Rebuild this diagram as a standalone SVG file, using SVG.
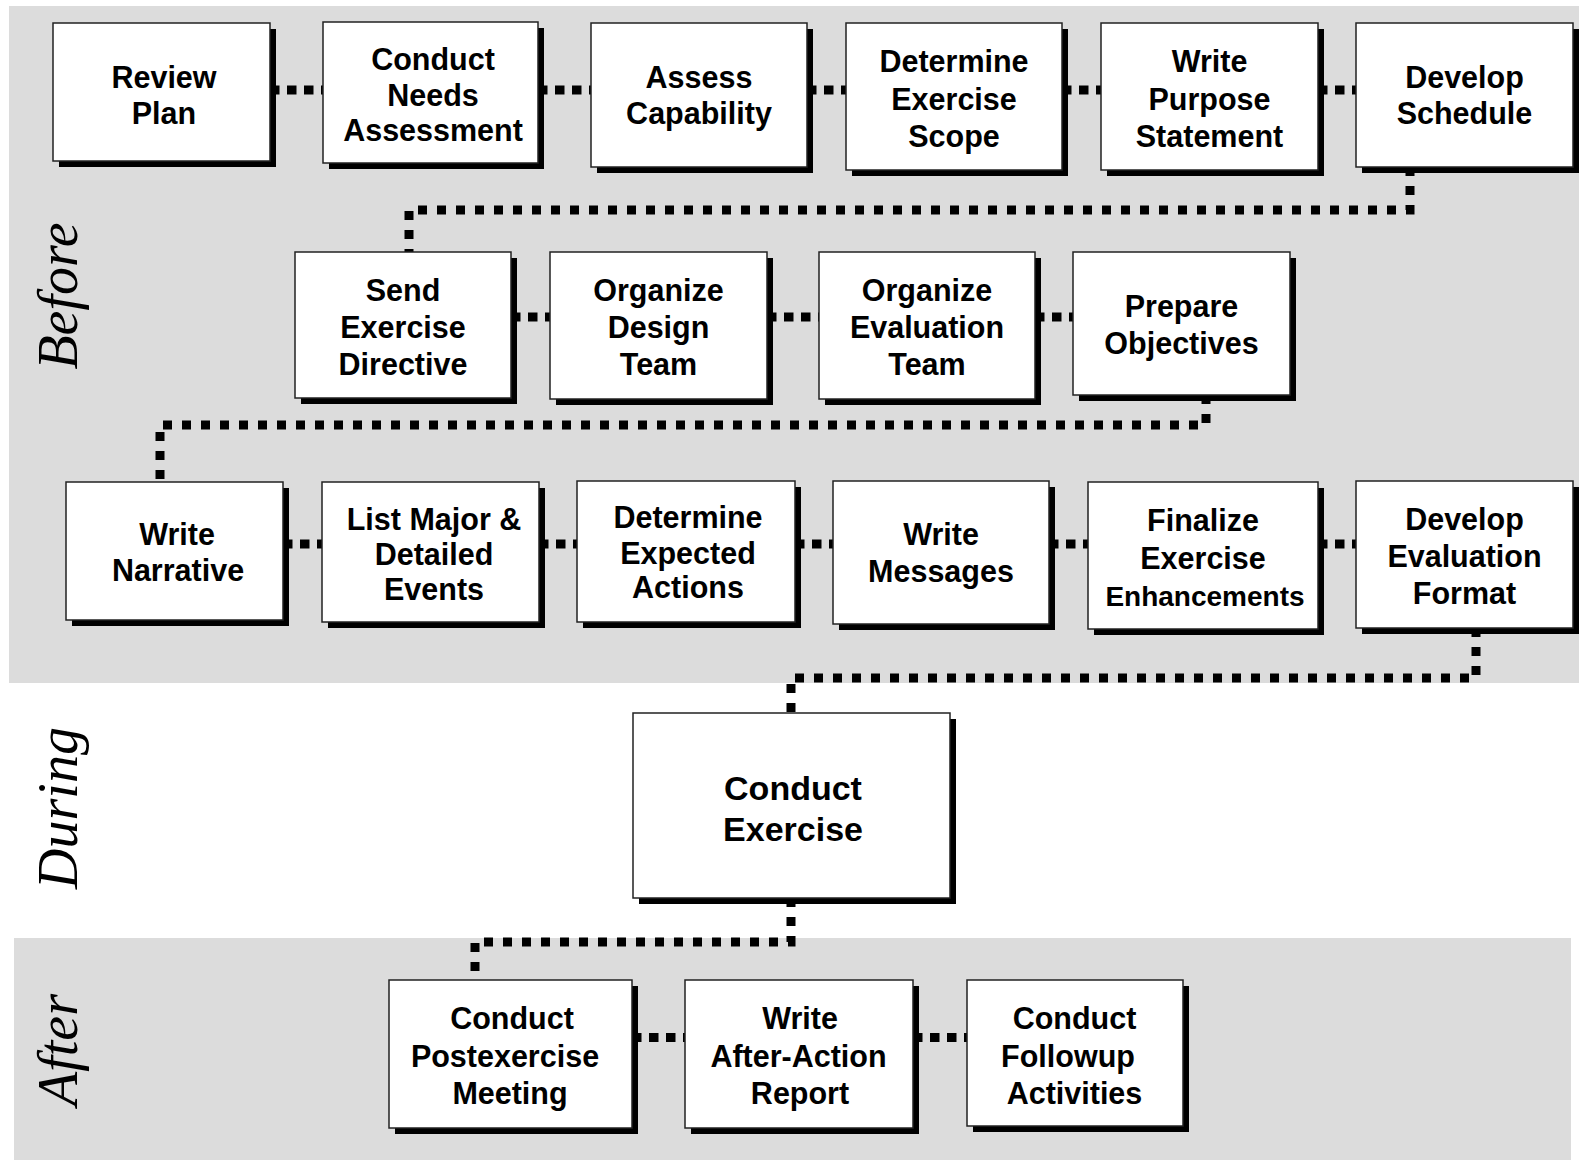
<svg xmlns="http://www.w3.org/2000/svg" width="1579" height="1162" viewBox="0 0 1579 1162">
  <style>
    .band { fill: #dcdcdc; }
    .phase { font-family: "Liberation Serif", "Times New Roman", serif; font-style: italic; font-size: 56px; fill: #000; text-anchor: middle; }
    .shadow { fill: #000; }
    .box { fill: #fff; stroke: #222; stroke-width: 1.5; }
    .lbl { font-family: "Liberation Sans", Arial, sans-serif; font-weight: bold; font-size: 30.5px; fill: #000; text-anchor: middle; }
    .big { font-size: 34px; }
    .small { font-size: 28px; }
    .link { fill: none; stroke: #000; stroke-width: 9; stroke-dasharray: 9.5 7.5; }
    .long { stroke-dasharray: 9 10; }
  </style>

  <!-- phase bands -->
  <rect class="band" x="9" y="6" width="1570" height="677"/>
  <rect class="band" x="14" y="938" width="1557" height="222"/>

  <!-- phase labels -->
  <text class="phase" transform="translate(77,296) rotate(-90)">Before</text>
  <text class="phase" transform="translate(77,808) rotate(-90)">During</text>
  <text class="phase" transform="translate(77,1050) rotate(-90)">After</text>

  <!-- dotted connectors -->
  <g id="connectors">
    <path class="link" d="M270,90 H323"/>
    <path class="link" d="M538,90 H591"/>
    <path class="link" d="M807,90 H846"/>
    <path class="link" d="M1062,90 H1101"/>
    <path class="link" d="M1318,90 H1356"/>
    <path class="link long" d="M1410,167 V210 H409 V252"/>
    <path class="link" d="M511,317 H550"/>
    <path class="link" d="M767,317 H819"/>
    <path class="link" d="M1035,317 H1073"/>
    <path class="link long" d="M1206,395 V425 H160 V482"/>
    <path class="link" d="M283,544 H322"/>
    <path class="link" d="M539,544 H577"/>
    <path class="link" d="M795,544 H833"/>
    <path class="link" d="M1049,544 H1088"/>
    <path class="link" d="M1318,544 H1356"/>
    <path class="link long" d="M1476,628 V678 H791 V713"/>
    <path class="link long" d="M791,898 V942 H475 V980"/>
    <path class="link" d="M632,1037.5 H685"/>
    <path class="link" d="M913,1037.5 H967"/>
  </g>

  <!-- Before: row 1 -->
  <g id="review-plan">
    <rect class="shadow" x="59" y="29" width="217" height="138"/>
    <rect class="box" x="53" y="23" width="217" height="138"/>
    <text class="lbl" x="164" y="88">Review</text>
    <text class="lbl" x="164" y="124">Plan</text>
  </g>
  <g id="needs-assessment">
    <rect class="shadow" x="329" y="28" width="215" height="141"/>
    <rect class="box" x="323" y="22" width="215" height="141"/>
    <text class="lbl" x="433" y="70">Conduct</text>
    <text class="lbl" x="433" y="105.5">Needs</text>
    <text class="lbl" x="433" y="141">Assessment</text>
  </g>
  <g id="assess-capability">
    <rect class="shadow" x="597" y="29" width="216" height="144"/>
    <rect class="box" x="591" y="23" width="216" height="144"/>
    <text class="lbl" x="699" y="88">Assess</text>
    <text class="lbl" x="699" y="124">Capability</text>
  </g>
  <g id="exercise-scope">
    <rect class="shadow" x="852" y="29" width="216" height="147"/>
    <rect class="box" x="846" y="23" width="216" height="147"/>
    <text class="lbl" x="954" y="72">Determine</text>
    <text class="lbl" x="954" y="110">Exercise</text>
    <text class="lbl" x="954" y="147">Scope</text>
  </g>
  <g id="purpose-statement">
    <rect class="shadow" x="1107" y="29" width="217" height="147"/>
    <rect class="box" x="1101" y="23" width="217" height="147"/>
    <text class="lbl" x="1209.5" y="72">Write</text>
    <text class="lbl" x="1209.5" y="109.5">Purpose</text>
    <text class="lbl" x="1209.5" y="146.5">Statement</text>
  </g>
  <g id="develop-schedule">
    <rect class="shadow" x="1362" y="29" width="217" height="144"/>
    <rect class="box" x="1356" y="23" width="217" height="144"/>
    <text class="lbl" x="1464.5" y="88">Develop</text>
    <text class="lbl" x="1464.5" y="124">Schedule</text>
  </g>

  <!-- Before: row 2 -->
  <g id="exercise-directive">
    <rect class="shadow" x="301" y="258" width="216" height="146"/>
    <rect class="box" x="295" y="252" width="216" height="146"/>
    <text class="lbl" x="403" y="301">Send</text>
    <text class="lbl" x="403" y="338">Exercise</text>
    <text class="lbl" x="403" y="375">Directive</text>
  </g>
  <g id="design-team">
    <rect class="shadow" x="556" y="258" width="217" height="147"/>
    <rect class="box" x="550" y="252" width="217" height="147"/>
    <text class="lbl" x="658.5" y="301">Organize</text>
    <text class="lbl" x="658.5" y="338">Design</text>
    <text class="lbl" x="658.5" y="375">Team</text>
  </g>
  <g id="evaluation-team">
    <rect class="shadow" x="825" y="258" width="216" height="147"/>
    <rect class="box" x="819" y="252" width="216" height="147"/>
    <text class="lbl" x="927" y="301">Organize</text>
    <text class="lbl" x="927" y="338">Evaluation</text>
    <text class="lbl" x="927" y="375">Team</text>
  </g>
  <g id="prepare-objectives">
    <rect class="shadow" x="1079" y="258" width="217" height="143"/>
    <rect class="box" x="1073" y="252" width="217" height="143"/>
    <text class="lbl" x="1181.5" y="317">Prepare</text>
    <text class="lbl" x="1181.5" y="354">Objectives</text>
  </g>

  <!-- Before: row 3 -->
  <g id="write-narrative">
    <rect class="shadow" x="72" y="488" width="217" height="138"/>
    <rect class="box" x="66" y="482" width="217" height="138"/>
    <text class="lbl" x="177" y="545">Write</text>
    <text class="lbl" x="178" y="581">Narrative</text>
  </g>
  <g id="major-events">
    <rect class="shadow" x="328" y="488" width="217" height="140"/>
    <rect class="box" x="322" y="482" width="217" height="140"/>
    <text class="lbl" x="434" y="530">List Major &amp;</text>
    <text class="lbl" x="434" y="565">Detailed</text>
    <text class="lbl" x="434" y="600">Events</text>
  </g>
  <g id="expected-actions">
    <rect class="shadow" x="583" y="487" width="218" height="141"/>
    <rect class="box" x="577" y="481" width="218" height="141"/>
    <text class="lbl" x="688" y="528">Determine</text>
    <text class="lbl" x="688" y="564">Expected</text>
    <text class="lbl" x="688" y="598">Actions</text>
  </g>
  <g id="write-messages">
    <rect class="shadow" x="839" y="487" width="216" height="143"/>
    <rect class="box" x="833" y="481" width="216" height="143"/>
    <text class="lbl" x="941" y="545">Write</text>
    <text class="lbl" x="941" y="582">Messages</text>
  </g>
  <g id="exercise-enhancements">
    <rect class="shadow" x="1094" y="488" width="230" height="147"/>
    <rect class="box" x="1088" y="482" width="230" height="147"/>
    <text class="lbl" x="1203" y="530.5">Finalize</text>
    <text class="lbl" x="1203" y="568.5">Exercise</text>
    <text class="lbl small" x="1205" y="606">Enhancements</text>
  </g>
  <g id="evaluation-format">
    <rect class="shadow" x="1362" y="487" width="217" height="147"/>
    <rect class="box" x="1356" y="481" width="217" height="147"/>
    <text class="lbl" x="1464.5" y="530">Develop</text>
    <text class="lbl" x="1464.5" y="567">Evaluation</text>
    <text class="lbl" x="1464.5" y="604">Format</text>
  </g>

  <!-- During -->
  <g id="conduct-exercise">
    <rect class="shadow" x="639" y="719" width="317" height="185"/>
    <rect class="box" x="633" y="713" width="317" height="185"/>
    <text class="lbl big" x="793" y="800">Conduct</text>
    <text class="lbl big" x="793" y="841">Exercise</text>
  </g>

  <!-- After -->
  <g id="postexercise-meeting">
    <rect class="shadow" x="395" y="986" width="243" height="148"/>
    <rect class="box" x="389" y="980" width="243" height="148"/>
    <text class="lbl" x="512" y="1029">Conduct</text>
    <text class="lbl" x="505" y="1067">Postexercise</text>
    <text class="lbl" x="510" y="1104">Meeting</text>
  </g>
  <g id="after-action-report">
    <rect class="shadow" x="691" y="986" width="228" height="148"/>
    <rect class="box" x="685" y="980" width="228" height="148"/>
    <text class="lbl" x="800" y="1029">Write</text>
    <text class="lbl" x="798.5" y="1067">After-Action</text>
    <text class="lbl" x="800" y="1104">Report</text>
  </g>
  <g id="followup-activities">
    <rect class="shadow" x="973" y="986" width="216" height="146"/>
    <rect class="box" x="967" y="980" width="216" height="146"/>
    <text class="lbl" x="1074.5" y="1029">Conduct</text>
    <text class="lbl" x="1068" y="1067">Followup</text>
    <text class="lbl" x="1074.5" y="1104">Activities</text>
  </g>
</svg>
